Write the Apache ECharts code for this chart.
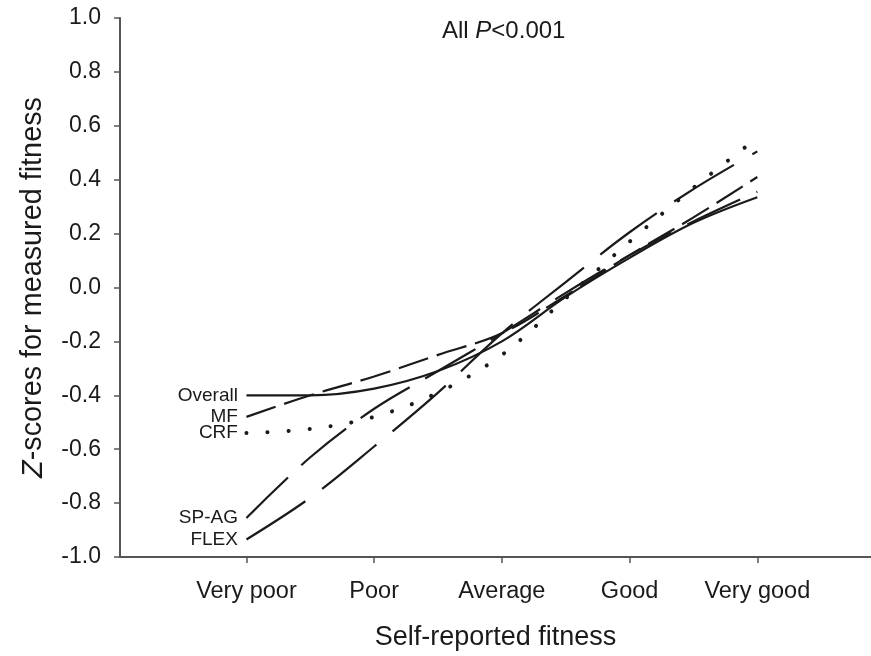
<!DOCTYPE html>
<html>
<head>
<meta charset="utf-8">
<script src="https://cdn.jsdelivr.net/npm/echarts@6/dist/echarts.min.js"></script>
<style>
  html, body { margin: 0; padding: 0; background: #fff; }
  #chart { width: 871px; height: 656px; }
</style>
</head>
<body>
<div id="chart"></div>
<script>
// Self-reported fitness categories (x positions 0..4), curves sampled every half step
const categories = ['Very poor', 'Poor', 'Average', 'Good', 'Very good'];
const xSteps = [0, 0.5, 1, 1.5, 2, 2.5, 3, 3.5, 4];

// Z-scores for measured fitness
const overall = [-0.40, -0.40, -0.375, -0.31, -0.20, -0.035, 0.11, 0.24, 0.335];
const mf      = [-0.48, -0.40, -0.33, -0.25, -0.17, -0.03, 0.12, 0.26, 0.41];
const crf     = [-0.54, -0.525, -0.48, -0.39, -0.25, -0.04, 0.17, 0.37, 0.555];
const spag    = [-0.855, -0.63, -0.45, -0.31, -0.17, -0.02, 0.12, 0.245, 0.355];
const flex    = [-0.935, -0.78, -0.59, -0.39, -0.17, 0.02, 0.205, 0.365, 0.505];

const yTicks = [-1.0, -0.8, -0.6, -0.4, -0.2, 0.0, 0.2, 0.4, 0.6, 0.8, 1.0];

const FONT = '"Liberation Sans", Arial, sans-serif';
const INK = '#1a1a1a';

function curve(name, values, dash, width, cap) {
  return {
    name: name,
    type: 'line',
    data: values.map((v, i) => [xSteps[i], v]),
    smooth: 0.35,
    showSymbol: true,
    showAllSymbol: true,
    symbol: 'circle',
    symbolSize: 1,
    silent: true,
    lineStyle: { color: INK, width: width, type: dash, cap: cap || 'butt' },
    itemStyle: { color: 'rgba(0,0,0,0)', borderWidth: 0 },
    // series name written to the left of the curve's first point
    label: {
      show: true, position: 'left', distance: 8,
      formatter: p => (p.dataIndex === 0 ? name : ''),
      fontSize: 19, color: INK, fontFamily: FONT
    }
  };
}

const chart = echarts.init(document.getElementById('chart'), null, { renderer: 'canvas' });
chart.setOption({
  animation: false,
  backgroundColor: '#fff',
  title: {
    text: '{a|All }{b|P}{a|<0.001}',
    left: 437, top: 14,
    textStyle: {
      fontWeight: 'normal',
      rich: {
        a: { fontSize: 24, color: INK, fontFamily: FONT, fontWeight: 'normal' },
        b: { fontSize: 24, color: INK, fontFamily: FONT, fontWeight: 'normal', fontStyle: 'italic' }
      }
    }
  },
  grid: { left: 120, right: 0, top: 18, bottom: 99, containLabel: false },
  xAxis: {
    type: 'value',
    min: -0.99, max: 4.89,
    name: 'Self-reported fitness',
    nameLocation: 'middle',
    nameGap: 67,
    nameTextStyle: { fontSize: 27, color: INK, fontFamily: FONT },
    splitLine: { show: false },
    axisLine: { show: true, onZero: false, lineStyle: { color: '#555', width: 2 } },
    axisTick: { show: true, length: 6, lineStyle: { color: '#555', width: 1.5 }, customValues: [0, 1, 2, 3, 4] },
    axisLabel: {
      customValues: [0, 1, 2, 3, 4],
      formatter: v => categories[Math.round(v)],
      fontSize: 23.5, color: INK, fontFamily: FONT, margin: 23
    }
  },
  yAxis: {
    type: 'value',
    min: -1, max: 1, interval: 0.2,
    name: '{i|Z}{n|-scores for measured fitness}',
    nameLocation: 'middle',
    nameGap: 72,
    nameTextStyle: {
      rich: {
        i: { fontSize: 28.8, color: INK, fontFamily: FONT, fontStyle: 'italic' },
        n: { fontSize: 28.8, color: INK, fontFamily: FONT }
      }
    },
    splitLine: { show: false },
    axisLine: { show: true, onZero: false, lineStyle: { color: '#555', width: 2 } },
    axisTick: { show: true, length: 6, lineStyle: { color: '#555', width: 1.5 } },
    axisLabel: {
      formatter: v => {
        const t = yTicks.find(k => Math.abs(k - v) < 1e-6);
        return (t === undefined ? v : t).toFixed(1);
      },
      fontSize: 23, color: INK, fontFamily: FONT, margin: 19
    }
  },
  series: [
    curve('Overall', overall, 'solid', 2.2),
    curve('MF', mf, [31, 9], 2.2),
    curve('CRF', crf, [0.1, 21], 4, 'round'),
    curve('SP-AG', spag, [58, 18], 2.2),
    curve('FLEX', flex, [70, 21], 2.2)
  ]
});
</script>
</body>
</html>
